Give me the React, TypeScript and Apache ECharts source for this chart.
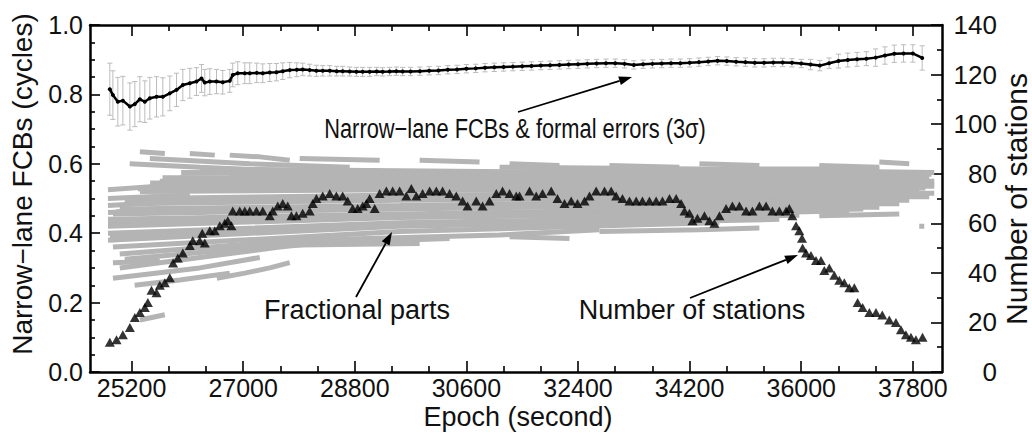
import React, { useEffect, useRef } from "react";
import * as echarts from "echarts";

// ---------- axes ----------
const X_MIN = 24530;
const X_MAX = 38270;
const majorEpochTicks = [25200, 27000, 28800, 30600, 32400, 34200, 36000, 37800];
const minorEpochTicks = [25800, 26400, 27600, 28200, 29400, 30000, 31200, 31800, 33000, 33600, 34800, 35400, 36600, 37200];

// ---------- narrow-lane FCB [epoch, value, 3-sigma] ----------
const fcbSeries: [number, number, number][] = [
  [24850, 0.815, 0.075], [24899, 0.798, 0.07], [24979, 0.779, 0.07], [25060, 0.782, 0.07],
  [25173, 0.765, 0.068], [25253, 0.772, 0.065], [25334, 0.786, 0.065], [25414, 0.779, 0.06],
  [25495, 0.789, 0.06], [25603, 0.793, 0.058], [25704, 0.793, 0.055], [25817, 0.803, 0.05],
  [25925, 0.813, 0.048], [26027, 0.827, 0.045], [26140, 0.832, 0.043], [26247, 0.837, 0.04],
  [26328, 0.846, 0.04], [26381, 0.834, 0.038], [26462, 0.837, 0.037], [26570, 0.837, 0.035],
  [26671, 0.835, 0.034], [26784, 0.839, 0.033], [26832, 0.856, 0.034], [26913, 0.861, 0.033],
  [27026, 0.861, 0.03], [27106, 0.861, 0.03], [27219, 0.862, 0.028], [27316, 0.861, 0.027],
  [27429, 0.863, 0.026], [27536, 0.864, 0.025], [27638, 0.867, 0.024], [27751, 0.87, 0.022],
  [27864, 0.871, 0.02], [27960, 0.872, 0.018], [28073, 0.87, 0.017], [28181, 0.868, 0.016],
  [28283, 0.868, 0.015], [28396, 0.868, 0.015], [28508, 0.867, 0.014], [28605, 0.867, 0.014],
  [28718, 0.866, 0.013], [28826, 0.865, 0.013], [28927, 0.865, 0.013], [29040, 0.865, 0.013],
  [29153, 0.866, 0.012], [29249, 0.865, 0.012], [29362, 0.866, 0.012], [29470, 0.867, 0.012],
  [29572, 0.866, 0.012], [29700, 0.866, 0.012], [29850, 0.867, 0.012], [30000, 0.868, 0.012],
  [30150, 0.869, 0.012], [30300, 0.871, 0.012], [30450, 0.872, 0.012], [30600, 0.874, 0.012],
  [30750, 0.875, 0.012], [30900, 0.877, 0.012], [31050, 0.878, 0.012], [31200, 0.879, 0.012],
  [31350, 0.88, 0.012], [31500, 0.881, 0.012], [31650, 0.882, 0.012], [31800, 0.883, 0.012],
  [31950, 0.884, 0.012], [32100, 0.885, 0.012], [32250, 0.886, 0.012], [32400, 0.887, 0.012],
  [32550, 0.888, 0.012], [32700, 0.889, 0.012], [32850, 0.89, 0.012], [33000, 0.89, 0.012],
  [33150, 0.888, 0.012], [33300, 0.885, 0.012], [33450, 0.887, 0.012], [33600, 0.888, 0.012],
  [33750, 0.889, 0.012], [33900, 0.89, 0.012], [34050, 0.89, 0.012], [34200, 0.891, 0.012],
  [34350, 0.893, 0.012], [34500, 0.895, 0.012], [34650, 0.897, 0.012], [34800, 0.896, 0.012],
  [34950, 0.894, 0.012], [35100, 0.893, 0.012], [35250, 0.891, 0.012], [35400, 0.891, 0.012],
  [35550, 0.892, 0.012], [35700, 0.892, 0.012], [35850, 0.891, 0.012], [36000, 0.889, 0.012],
  [36150, 0.886, 0.015], [36300, 0.883, 0.015], [36450, 0.89, 0.015], [36600, 0.896, 0.02],
  [36750, 0.899, 0.02], [36900, 0.901, 0.02], [37050, 0.903, 0.02], [37200, 0.906, 0.025],
  [37350, 0.912, 0.025], [37500, 0.917, 0.025], [37650, 0.918, 0.025], [37800, 0.918, 0.025],
  [37950, 0.905, 0.035],
];

// ---------- number of stations [epoch, count] ----------
const stationCounts: [number, number][] = [
  [24850, 12], [24958, 13], [25060, 15], [25173, 18], [25253, 22], [25334, 24], [25414, 26],
  [25463, 28], [25522, 33], [25603, 32], [25656, 35], [25737, 36], [25817, 38], [25870, 44],
  [25946, 46], [26027, 48], [26140, 51], [26188, 53], [26300, 53], [26340, 56], [26381, 52],
  [26462, 57], [26542, 57], [26623, 59], [26703, 60], [26752, 61], [26811, 59], [26832, 65],
  [26945, 65], [27026, 65], [27106, 65], [27214, 65], [27316, 65], [27429, 63], [27477, 65],
  [27558, 67], [27638, 68], [27719, 67], [27778, 63], [27859, 63], [27960, 64], [28073, 65],
  [28122, 68], [28181, 70], [28283, 71], [28396, 72], [28503, 71], [28605, 71], [28685, 69],
  [28766, 66], [28847, 66], [28927, 67], [28987, 68], [29040, 70], [29121, 66], [29201, 72],
  [29309, 73], [29411, 73], [29523, 73], [29631, 71], [29712, 74], [29793, 71], [29894, 72],
  [30007, 73], [30115, 73], [30216, 73], [30329, 72], [30437, 71], [30539, 69], [30619, 67],
  [30759, 69], [30861, 67], [30973, 69], [31082, 72], [31183, 73], [31296, 72], [31404, 71],
  [31457, 71], [31618, 73], [31726, 71], [31828, 72], [31968, 73], [32069, 70], [32182, 68],
  [32290, 69], [32392, 68], [32505, 69], [32585, 71], [32693, 73], [32827, 73], [32935, 73],
  [33015, 71], [33117, 70], [33230, 69], [33338, 69], [33439, 69], [33552, 69], [33660, 69],
  [33762, 69], [33875, 70], [33983, 70], [34063, 68], [34117, 65], [34197, 64], [34245, 61],
  [34326, 62], [34439, 63], [34519, 61], [34600, 60], [34681, 63], [34788, 66], [34890, 67],
  [35003, 67], [35111, 65], [35212, 65], [35325, 67], [35433, 67], [35534, 65], [35647, 65],
  [35755, 65], [35808, 66], [35856, 63], [35916, 59], [35969, 57], [36012, 54], [36022, 50],
  [36077, 48], [36157, 47], [36238, 45], [36318, 45], [36372, 41], [36453, 42], [36533, 39],
  [36614, 37], [36694, 36], [36775, 34], [36856, 34], [36909, 28], [36990, 26], [37098, 24],
  [37205, 24], [37307, 23], [37420, 21], [37527, 20], [37608, 17], [37688, 15], [37769, 14],
  [37849, 13], [37956, 14],
];

// ---------- fractional parts: tracks of [epoch, value] ----------
const fractionalTracks: [number, number][][] = [
  [[26300, 0.585], [29523, 0.58], [32746, 0.575], [35969, 0.58], [38145, 0.575]],
  [[26000, 0.575], [30000, 0.572], [35000, 0.572], [38100, 0.57]],
  [[26784, 0.57], [31135, 0.565], [35969, 0.566], [38064, 0.56]],
  [[25700, 0.56], [30000, 0.56], [35000, 0.561], [38000, 0.556]],
  [[25978, 0.56], [29523, 0.555], [34358, 0.556], [38145, 0.55]],
  [[25656, 0.55], [29523, 0.545], [34358, 0.546], [37984, 0.545]],
  [[25500, 0.545], [30000, 0.54], [35000, 0.54], [38145, 0.54]],
  [[25495, 0.535], [31135, 0.535], [35969, 0.536], [38145, 0.535]],
  [[25300, 0.528], [31135, 0.53], [36500, 0.53], [38000, 0.53]],
  [[25335, 0.52], [29523, 0.525], [35969, 0.525], [37903, 0.525]],
  [[25250, 0.5], [29523, 0.51], [35969, 0.515], [38145, 0.515]],
  [[25090, 0.49], [29523, 0.503], [35969, 0.51], [37903, 0.51]],
  [[25170, 0.485], [29523, 0.495], [35969, 0.505], [38064, 0.505]],
  [[25010, 0.47], [29523, 0.48], [35969, 0.495], [37742, 0.495]],
  [[24950, 0.462], [29523, 0.476], [35969, 0.49], [37500, 0.49]],
  [[24900, 0.455], [29523, 0.47], [35969, 0.485], [37581, 0.485]],
  [[24820, 0.44], [29523, 0.455], [35969, 0.475], [37259, 0.475]],
  [[24820, 0.43], [29523, 0.45], [34358, 0.46], [37000, 0.47]],
  [[24820, 0.42], [29523, 0.445], [34358, 0.455], [36775, 0.465]],
  [[24820, 0.4], [29523, 0.43], [34358, 0.445], [35969, 0.452]],
  [[24850, 0.39], [29523, 0.425], [33552, 0.44], [35500, 0.447]],
  [[24820, 0.38], [29523, 0.42], [34358, 0.435], [35647, 0.44]],
  [[24900, 0.36], [29523, 0.405], [33552, 0.425], [34680, 0.43]],
  [[25010, 0.34], [27912, 0.38], [31135, 0.395], [32746, 0.41]],
  [[25090, 0.325], [27912, 0.37], [30329, 0.385]],
  [[24820, 0.525], [25978, 0.54], [27106, 0.55]],
  [[24820, 0.5], [26140, 0.51]],
  [[24820, 0.48], [25817, 0.49]],
  [[24820, 0.46], [26300, 0.47]],
  [[25010, 0.3], [26300, 0.33], [27590, 0.36], [28396, 0.375]],
  [[24900, 0.27], [26300, 0.3], [27268, 0.33]],
  [[25250, 0.25], [25978, 0.265], [26784, 0.285]],
  [[26575, 0.27], [27026, 0.285], [27429, 0.3], [27751, 0.315]],
  [[25335, 0.15], [25737, 0.165]],
  [[24900, 0.315], [25656, 0.32]],
  [[25170, 0.6], [26300, 0.59], [27590, 0.58]],
  [[25495, 0.615], [27106, 0.6], [28718, 0.59]],
  [[25335, 0.635], [25737, 0.63]],
  [[26140, 0.63], [26542, 0.625]],
  [[26784, 0.625], [27268, 0.62], [27751, 0.61]],
  [[27912, 0.615], [29201, 0.61]],
  [[29846, 0.61], [30812, 0.605]],
  [[31296, 0.6], [32101, 0.595]],
  [[32907, 0.595], [34035, 0.59]],
  [[34358, 0.6], [35325, 0.595]],
  [[36291, 0.595], [37259, 0.59]],
  [[37259, 0.605], [37742, 0.6]],
  [[31135, 0.59], [34358, 0.585], [37259, 0.585]],
  [[27590, 0.365], [29846, 0.37]],
  [[31296, 0.39], [32263, 0.385]],
  [[32746, 0.405], [34358, 0.41], [35325, 0.415]],
  [[36291, 0.45], [37581, 0.455]],
  [[37903, 0.42], [37984, 0.42]],
];

// ---------- texts ----------
const leftAxisName = "Narrow\u2212lane FCBs (cycles)";
const rightAxisName = "Number of stations";
const xAxisName = "Epoch (second)";
const noteFcb = "Narrow\u2212lane FCBs & formal errors (3\u03c3)";
const noteFrac = "Fractional parts";
const noteStations = "Number of stations";

const FONT = '"Liberation Sans", Arial, Helvetica, sans-serif';
const INK = "#111";
const CLOUD = "#b4b4b4";

function arrow(x1: number, y1: number, x2: number, y2: number) {
  const ang = Math.atan2(y2 - y1, x2 - x1);
  const L = 13;
  const W = 4.5;
  const bx = x2 - L * Math.cos(ang);
  const by = y2 - L * Math.sin(ang);
  const px = -Math.sin(ang) * W;
  const py = Math.cos(ang) * W;
  return [
    { type: "line", z: 100, shape: { x1, y1, x2: bx, y2: by }, style: { stroke: "#000", lineWidth: 1.8 } },
    { type: "polygon", z: 100, shape: { points: [[x2, y2], [bx + px, by + py], [bx - px, by - py]] }, style: { fill: "#000" } },
  ];
}

function textEl(text: string, x: number, y: number, size: number, extra: any = {}) {
  return {
    type: "text",
    x,
    y,
    z: 100,
    ...extra,
    style: { text, fill: INK, font: `${size}px ${FONT}`, align: "center", verticalAlign: "middle" },
  };
}

export default function App() {
  const ref = useRef<HTMLDivElement>(null);

  useEffect(() => {
    if (!ref.current) return;
    const chart = echarts.init(ref.current, undefined, { renderer: "svg" });

    const xBase = (position: string, showLine: boolean) => ({
      type: "value",
      position,
      min: X_MIN,
      max: X_MAX,
      splitLine: { show: false },
      axisLine: { show: showLine, onZero: false, lineStyle: { color: "#000", width: 2.5 } },
    });

    const tickStyle = { color: "#000", width: 1.6 };

    const fracSeries = fractionalTracks.map((track) => ({
      type: "line",
      xAxisIndex: 0,
      yAxisIndex: 0,
      data: track,
      showSymbol: false,
      symbol: "none",
      silent: true,
      z: 1,
      lineStyle: { color: CLOUD, width: 5 },
    }));

    const option: any = {
      animation: false,
      backgroundColor: "#fff",
      textStyle: { fontFamily: FONT },
      grid: { left: 90, right: 90, top: 25, bottom: 63, containLabel: false },
      xAxis: [
        {
          ...xBase("bottom", true),
          axisTick: { show: true, inside: true, length: 11, lineStyle: tickStyle, customValues: majorEpochTicks },
          axisLabel: {
            show: true,
            customValues: majorEpochTicks,
            margin: 3,
            fontSize: 25,
            color: INK,
            fontFamily: FONT,
            formatter: (v: number) => String(v),
          },
        },
        {
          ...xBase("bottom", false),
          axisTick: { show: true, inside: true, length: 6, lineStyle: tickStyle, customValues: minorEpochTicks },
          axisLabel: { show: false },
        },
        {
          ...xBase("top", true),
          axisTick: { show: true, inside: true, length: 11, lineStyle: tickStyle, customValues: majorEpochTicks },
          axisLabel: { show: false },
        },
        {
          ...xBase("top", false),
          axisTick: { show: true, inside: true, length: 6, lineStyle: tickStyle, customValues: minorEpochTicks },
          axisLabel: { show: false },
        },
      ],
      yAxis: [
        {
          type: "value",
          position: "left",
          min: 0,
          max: 1,
          interval: 0.2,
          splitLine: { show: false },
          axisLine: { show: true, lineStyle: { color: "#000", width: 2.5 } },
          axisTick: { show: true, inside: true, length: 10, lineStyle: tickStyle },
          minorTick: { show: true, splitNumber: 4, length: 5, lineStyle: tickStyle },
          minorSplitLine: { show: false },
          axisLabel: {
            margin: 7,
            fontSize: 25,
            color: INK,
            fontFamily: FONT,
            formatter: (v: number) => v.toFixed(1),
          },
        },
        {
          type: "value",
          position: "right",
          min: 0,
          max: 140,
          interval: 20,
          alignTicks: false,
          splitLine: { show: false },
          axisLine: { show: true, lineStyle: { color: "#000", width: 2.5 } },
          axisTick: { show: true, inside: true, length: 11, lineStyle: tickStyle },
          minorTick: { show: true, splitNumber: 2, length: 5, lineStyle: tickStyle },
          minorSplitLine: { show: false },
          axisLabel: {
            margin: 55,
            align: "right",
            fontSize: 26,
            color: INK,
            fontFamily: FONT,
          },
        },
      ],
      series: [
        ...fracSeries,
        {
          type: "custom",
          xAxisIndex: 0,
          yAxisIndex: 0,
          z: 3,
          silent: true,
          data: fcbSeries,
          encode: { x: 0, y: 1 },
          renderItem: (_params: any, api: any) => {
            const x = api.value(0);
            const v = api.value(1);
            const e = api.value(2);
            const hi = api.coord([x, v + e]);
            const lo = api.coord([x, v - e]);
            const cw = 2.6;
            const st = { stroke: "#bcbcbc", lineWidth: 1 };
            return {
              type: "group",
              children: [
                { type: "line", shape: { x1: hi[0], y1: hi[1], x2: lo[0], y2: lo[1] }, style: st },
                { type: "line", shape: { x1: hi[0] - cw, y1: hi[1], x2: hi[0] + cw, y2: hi[1] }, style: st },
                { type: "line", shape: { x1: lo[0] - cw, y1: lo[1], x2: lo[0] + cw, y2: lo[1] }, style: st },
              ],
            };
          },
        },
        {
          type: "scatter",
          xAxisIndex: 0,
          yAxisIndex: 1,
          z: 5,
          silent: true,
          symbol: "triangle",
          symbolSize: [10, 9],
          itemStyle: { color: "#000" },
          data: stationCounts,
        },
        {
          type: "line",
          xAxisIndex: 0,
          yAxisIndex: 0,
          z: 6,
          silent: true,
          data: fcbSeries.map((d) => [d[0], d[1]]),
          symbol: "circle",
          symbolSize: 4,
          showSymbol: true,
          itemStyle: { color: "#000" },
          lineStyle: { color: "#000", width: 2.5 },
        },
      ],
      graphic: [
        textEl(leftAxisName, 22, 184, 28, { rotation: Math.PI / 2 }),
        textEl(rightAxisName, 1016, 199, 30, { rotation: Math.PI / 2 }),
        textEl(xAxisName, 518, 417, 27),
        textEl(noteFcb, 515, 128, 28, { scaleX: 0.78 }),
        textEl(noteFrac, 357, 310, 27),
        textEl(noteStations, 692, 310, 27),
        ...arrow(518, 112, 632, 77),
        ...arrow(356, 297, 392, 232),
        ...arrow(690, 298, 798, 255),
      ],
    };

    chart.setOption(option);
    return () => chart.dispose();
  }, []);

  return (
    <div
      ref={ref}
      style={{ position: "fixed", left: 0, top: 0, width: 1032, height: 435, background: "#fff" }}
    />
  );
}
